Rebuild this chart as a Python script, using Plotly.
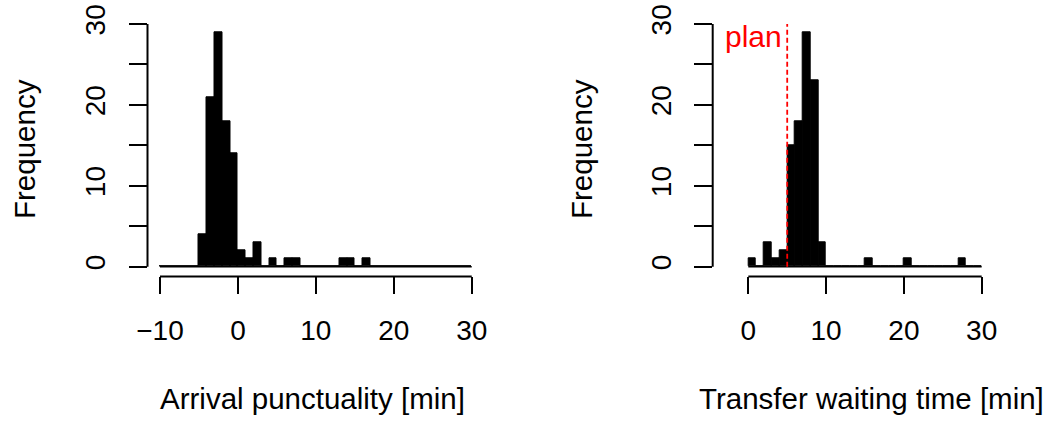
import plotly.graph_objects as go

# Arrival punctuality histogram, 1-minute bins from -10 to 30
arrival_breaks = list(range(-10, 31))
arrival_counts = [0, 0, 0, 0, 0, 4, 21, 29, 18, 14,
                  2, 1, 3, 0, 1, 0, 1, 1, 0, 0,
                  0, 0, 0, 1, 1, 0, 1, 0, 0, 0,
                  0, 0, 0, 0, 0, 0, 0, 0, 0, 0]

# Transfer waiting time histogram, 1-minute bins from 0 to 30
transfer_breaks = list(range(0, 31))
transfer_counts = [1, 0, 3, 1, 2, 15, 18, 29, 23, 3,
                   0, 0, 0, 0, 0, 1, 0, 0, 0, 0,
                   1, 0, 0, 0, 0, 0, 0, 1, 0, 0]

plan_time = 5

arrival_ticks = [-10, 0, 10, 20, 30]
transfer_ticks = [0, 10, 20, 30]
freq_ticks = [0, 5, 10, 15, 20, 25, 30]
freq_labels = ["0", "", "10", "", "20", "", "30"]

W, H = 1045, 421
FONT = "Liberation Sans, Arial, sans-serif"


def fx(p):
    return p / W


def fy(p):
    return 1 - p / H


def hist_bar(breaks, counts, xa, ya):
    centers = [(a + b) / 2 for a, b in zip(breaks[:-1], breaks[1:])]
    widths = [b - a for a, b in zip(breaks[:-1], breaks[1:])]
    return go.Bar(x=centers, y=counts, width=widths, xaxis=xa, yaxis=ya,
                  marker=dict(color="black", line=dict(color="black", width=1)),
                  showlegend=False, hoverinfo="skip")


def baseline(breaks, xa, ya):
    return go.Scatter(x=[breaks[0], breaks[-1]], y=[0, 0], mode="lines",
                      xaxis=xa, yaxis=ya, line=dict(color="black", width=1.5),
                      showlegend=False, hoverinfo="skip")


fig = go.Figure()
fig.add_trace(hist_bar(arrival_breaks, arrival_counts, "x", "y"))
fig.add_trace(baseline(arrival_breaks, "x", "y"))
fig.add_trace(hist_bar(transfer_breaks, transfer_counts, "x2", "y2"))
fig.add_trace(baseline(transfer_breaks, "x2", "y2"))
fig.add_trace(go.Scatter(x=[plan_time, plan_time], y=[0, 30], mode="lines",
                         xaxis="x2", yaxis="y2",
                         line=dict(color="red", width=1.8, dash="5px,3px"),
                         showlegend=False, hoverinfo="skip"))

y_dom = [fy(276.4), fy(14.3)]
x1_dom = [fx(147.5), fx(484.2)]
x2_dom = [fx(712.7), fx(991.0)]

xcommon = dict(showgrid=False, zeroline=False, showline=False, ticks="outside",
               ticklen=17, tickwidth=2, tickcolor="black", automargin=False,
               tickfont=dict(family=FONT, size=28, color="black"),
               ticklabelstandoff=12)
ycommon = dict(showgrid=False, zeroline=False, showline=False, ticks="outside",
               ticklen=18, tickwidth=2, tickcolor="black", automargin=False,
               tickfont=dict(family=FONT, size=28, color="black"),
               tickangle=-90, ticklabelstandoff=12,
               range=[-1.2, 31.2], domain=y_dom,
               tickvals=freq_ticks, ticktext=freq_labels)

fig.update_layout(
    template="none",
    width=W, height=H,
    margin=dict(l=0, r=0, t=0, b=0, pad=0),
    paper_bgcolor="white", plot_bgcolor="white",
    bargap=0,
    xaxis=dict(domain=x1_dom, range=[-11.6, 31.6], anchor="y",
               tickvals=arrival_ticks, **xcommon),
    yaxis=dict(anchor="x", **ycommon),
    xaxis2=dict(domain=x2_dom, range=[-4.58, 31.2], anchor="y2",
                tickvals=transfer_ticks, **xcommon),
    yaxis2=dict(anchor="x2", **ycommon),
)

# Axis lines spanning only the labelled ranges
axis_line = dict(color="black", width=2)
shapes = [
    dict(type="line", xref="x", yref="paper", x0=arrival_ticks[0], x1=arrival_ticks[-1],
         y0=y_dom[0], y1=y_dom[0], line=axis_line),
    dict(type="line", xref="x2", yref="paper", x0=transfer_ticks[0], x1=transfer_ticks[-1],
         y0=y_dom[0], y1=y_dom[0], line=axis_line),
    dict(type="line", xref="paper", yref="y", x0=x1_dom[0], x1=x1_dom[0],
         y0=freq_ticks[0], y1=freq_ticks[-1], line=axis_line),
    dict(type="line", xref="paper", yref="y2", x0=x2_dom[0], x1=x2_dom[0],
         y0=freq_ticks[0], y1=freq_ticks[-1], line=axis_line),
]
fig.update_layout(shapes=shapes)

title_font = dict(family=FONT, size=29.5, color="black")
annotations = [
    dict(text="Arrival punctuality [min]", xref="paper", yref="paper",
         x=fx(312.5), y=fy(398), xanchor="center", yanchor="middle",
         showarrow=False, font=title_font),
    dict(text="Transfer waiting time [min]", xref="paper", yref="paper",
         x=fx(871.5), y=fy(398), xanchor="center", yanchor="middle",
         showarrow=False, font=title_font),
    dict(text="Frequency", xref="paper", yref="paper",
         x=fx(24), y=fy(149), xanchor="center", yanchor="middle",
         textangle=-90, showarrow=False, font=title_font),
    dict(text="Frequency", xref="paper", yref="paper",
         x=fx(581), y=fy(149), xanchor="center", yanchor="middle",
         textangle=-90, showarrow=False, font=title_font),
    dict(text="plan", xref="x2", yref="y2", x=plan_time, y=28.4,
         xanchor="right", yanchor="middle", xshift=-3, showarrow=False,
         font=dict(family=FONT, size=30, color="red")),
]
fig.update_layout(annotations=annotations)

fig.write_html("out.html")
